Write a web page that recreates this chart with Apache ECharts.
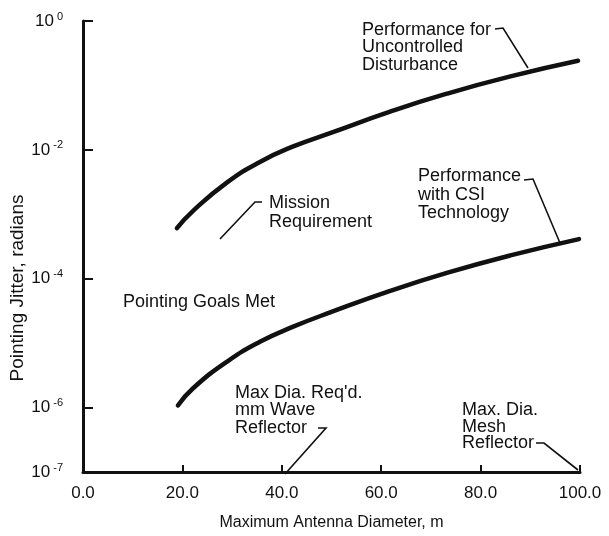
<!DOCTYPE html>
<html>
<head>
<meta charset="utf-8">
<script src="https://cdn.jsdelivr.net/npm/echarts@6/dist/echarts.min.js"></script>
<style>html,body{margin:0;padding:0;background:#fff}#c{width:609px;height:536px}</style>
</head>
<body>
<div id="c"></div>
<script>
// Maximum antenna diameter (m)
const diamUncontrolled = [18.9, 22.1, 29, 35.6, 42.3, 50, 61.8, 73.2, 86, 99.6];
// Pointing jitter (radians), performance for uncontrolled disturbance
const jitterUncontrolled = [6.1e-4, 1.12e-3, 3.13e-3, 6.5e-3, 1.13e-2, 1.85e-2, 3.92e-2, 7.44e-2, 0.138, 0.241];
const diamCSI = [19.1, 22.1, 29, 35.6, 42.3, 50, 61.8, 73.2, 86, 99.8];
// Pointing jitter (radians), performance with CSI technology
const jitterCSI = [1.08e-6, 1.98e-6, 5.18e-6, 1.05e-5, 1.8e-5, 3.05e-5, 6.47e-5, 1.23e-4, 2.3e-4, 4.12e-4];
const xTicks = [0, 20, 40, 60, 80, 100];
const yTickValues = [1, 1e-2, 1e-4, 1e-6, 1e-7];
const xTitle = 'Maximum Antenna Diameter, m';
const yTitle = 'Pointing Jitter, radians';

const FONT = '"Liberation Sans", Arial, Helvetica, sans-serif';
const INK = '#111';

function pairs(xs, ys) { return xs.map((x, i) => [x, ys[i]]); }

const chart = echarts.init(document.getElementById('c'), null, {renderer: 'canvas'});

function txt(text, x, y, lh, size) {
  return {
    type: 'text', x: x, y: y, z: 100,
    style: { text: text, fill: INK, fontSize: size || 18, fontFamily: FONT, lineHeight: lh, textVerticalAlign: 'top' }
  };
}
function leader(points) {
  return { type: 'polyline', z: 100, shape: { points: points }, style: { stroke: INK, lineWidth: 1.6, fill: null } };
}

chart.setOption({
  animation: false,
  backgroundColor: '#fff',
  grid: { left: 83, right: 29, top: 21, bottom: 62, containLabel: false },
  xAxis: {
    type: 'value', min: xTicks[0], max: xTicks[xTicks.length - 1], interval: 20,
    name: xTitle, nameLocation: 'middle', nameGap: 43,
    nameTextStyle: { fontSize: 16, fontFamily: FONT, color: INK },
    axisLine: { lineStyle: { color: INK, width: 3 } },
    axisTick: { inside: true, length: 7, lineStyle: { color: INK, width: 2 } },
    axisLabel: { fontSize: 17, fontFamily: FONT, color: INK, margin: 13, formatter: v => v.toFixed(1) },
    splitLine: { show: false }
  },
  yAxis: {
    type: 'log', logBase: 100, min: yTickValues[yTickValues.length - 1], max: yTickValues[0],
    axisLine: { lineStyle: { color: INK, width: 3 } },
    axisTick: { inside: true, length: 10, lineStyle: { color: INK, width: 2 } },
    axisLabel: {
      margin: 20, color: INK,
      formatter: v => '{b|10}{s|' + Math.round(Math.log10(v)) + '}',
      rich: {
        b: { fontSize: 17, fontFamily: FONT, color: INK, lineHeight: 20 },
        s: { fontSize: 11, fontFamily: FONT, color: INK, verticalAlign: 'top', lineHeight: 20, padding: [0, 0, 0, 3] }
      }
    },
    splitLine: { show: false }
  },
  series: [
    { type: 'line', data: pairs(diamUncontrolled, jitterUncontrolled), smooth: 0.5, symbol: 'none',
      lineStyle: { color: INK, width: 4.5, cap: 'round' } },
    { type: 'line', data: pairs(diamCSI, jitterCSI), smooth: 0.5, symbol: 'none',
      lineStyle: { color: INK, width: 4.5, cap: 'round' } }
  ],
  graphic: [
    { type: 'text', x: 18, y: 288, rotation: Math.PI / 2, z: 100,
      style: { text: yTitle, fill: INK, fontSize: 19, fontFamily: FONT, textAlign: 'center', textVerticalAlign: 'middle' } },
    txt('Performance for\nUncontrolled\nDisturbance', 362, 21, 17.5),
    leader([[495, 29], [503, 28], [528, 68]]),
    txt('Performance\nwith CSI\nTechnology', 418, 167, 18.5),
    leader([[524, 180], [533, 179], [560, 243]]),
    txt('Mission\nRequirement', 269, 193.5, 19),
    leader([[220, 239], [255, 202], [262, 202]]),
    txt('Pointing Goals Met', 123, 292, 20, 18),
    txt("Max Dia. Req'd.\nmm Wave\nReflector", 235, 384, 17.5),
    leader([[318, 428], [326, 428], [285, 474]]),
    txt('Max. Dia.\nMesh\nReflector', 462, 402, 16.5),
    leader([[536, 443], [544, 443], [578, 470]])
  ]
});
</script>
</body>
</html>
